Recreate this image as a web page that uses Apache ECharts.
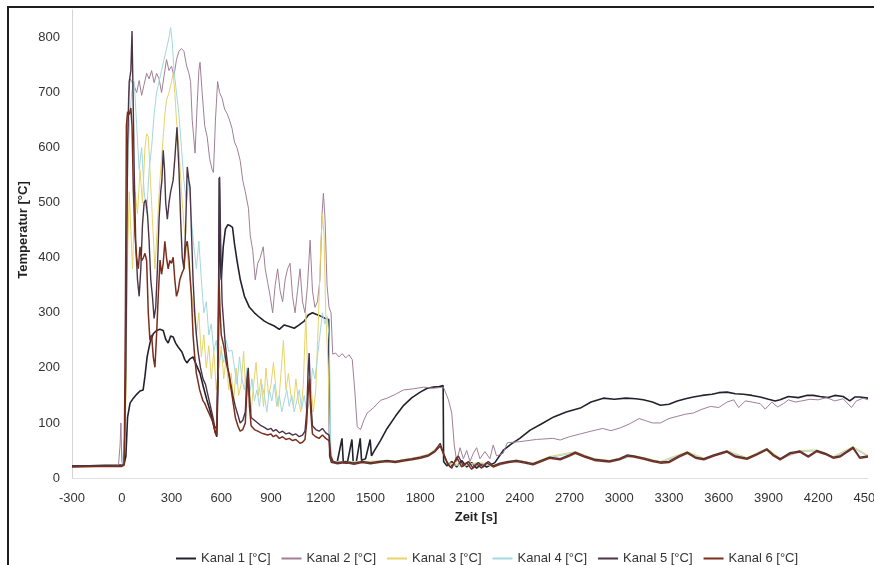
<!DOCTYPE html>
<html>
<head>
<meta charset="utf-8">
<script src="https://cdn.jsdelivr.net/npm/echarts@6/dist/echarts.min.js"></script>
<style>
html,body{margin:0;padding:0;background:#fff;}
#chart{width:874px;height:565px;}
</style>
</head>
<body>
<div id="chart"></div>
<script>
// ---- data: [time s, temperature °C] ----
const seriesNames = ['Kanal 1 [°C]','Kanal 2 [°C]','Kanal 3 [°C]','Kanal 4 [°C]','Kanal 5 [°C]','Kanal 6 [°C]'];
const xTicks = {min:-300, max:4500, step:300};
const yTicks = {min:0, max:850, step:100};

const k1 = [[-300,22],[-200,22],[-100,23],[-20,23],[0,24],[15,26],[25,40],[35,110],[50,136],[70,145],[90,152],[110,158],[129,160],[140,185],[153,220],[170,245],[190,262],[210,268],[230,270],[250,268],[265,252],[280,245],[295,258],[310,256],[325,245],[340,238],[363,229],[380,215],[393,209],[410,216],[430,220],[450,205],[472,190],[490,168],[513,142],[530,125],[545,108],[560,88],[573,75],[582,200],[588,545],[594,400],[600,360],[612,420],[625,452],[640,460],[655,458],[668,455],[680,425],[695,395],[715,360],[740,330],[770,310],[800,300],[830,292],[860,285],[890,280],[920,276],[950,270],[980,278],[1010,275],[1040,272],[1070,278],[1100,285],[1125,296],[1150,300],[1175,297],[1200,294],[1225,290],[1248,288],[1254,40],[1265,28],[1300,30],[1328,72],[1336,28],[1360,27],[1388,70],[1396,27],[1415,30],[1438,72],[1446,32],[1470,35],[1498,70],[1506,40],[1520,48],[1560,68],[1600,90],[1650,112],[1700,132],[1750,146],[1800,156],[1842,163],[1880,165],[1915,166],[1938,168],[1941,30],[1960,22],[1990,30],[2020,20],[2050,32],[2080,20],[2110,28],[2140,18],[2170,26],[2200,20],[2250,28],[2300,50],[2350,62],[2400,72],[2463,87],[2530,98],[2605,111],[2680,120],[2765,127],[2830,138],[2904,145],[2970,143],[3040,145],[3100,144],[3145,142],[3200,138],[3248,132],[3300,134],[3350,140],[3400,144],[3447,147],[3500,150],[3560,152],[3600,155],[3650,156],[3700,153],[3750,152],[3800,150],[3850,147],[3900,143],[3940,140],[3970,142],[4020,148],[4080,146],[4130,150],[4170,150],[4210,148],[4260,146],[4300,150],[4350,148],[4390,140],[4420,147],[4450,147],[4500,145]];

const k2 = [[-300,21],[-150,21],[-20,22],[-10,60],[-5,100],[0,30],[10,25],[20,100],[30,450],[40,690],[50,725],[60,720],[75,712],[90,700],[105,722],[120,695],[135,715],[150,735],[165,725],[180,740],[195,718],[210,735],[225,725],[240,700],[255,730],[270,760],[285,740],[300,748],[315,730],[330,760],[345,775],[360,780],[375,775],[390,750],[405,735],[415,720],[425,650],[442,590],[455,680],[465,740],[472,755],[485,700],[500,640],[515,620],[530,580],[545,560],[553,555],[565,650],[578,720],[590,700],[605,690],[620,670],[635,662],[650,650],[665,635],[680,610],[695,600],[714,577],[730,540],[745,520],[764,490],[775,440],[790,413],[805,360],[820,390],[835,400],[853,420],[865,380],[880,355],[895,330],[910,300],[925,350],[940,380],[955,340],[970,320],[985,360],[1000,380],[1015,390],[1030,330],[1045,300],[1060,340],[1075,380],[1090,320],[1105,300],[1120,350],[1136,432],[1150,340],[1165,310],[1180,320],[1195,360],[1208,480],[1216,517],[1226,470],[1238,350],[1250,310],[1262,300],[1272,225],[1290,227],[1310,220],[1330,226],[1350,218],[1370,224],[1390,215],[1405,160],[1420,93],[1440,88],[1460,105],[1480,118],[1520,128],[1560,141],[1600,145],[1650,152],[1700,160],[1760,162],[1820,165],[1880,163],[1940,165],[1970,142],[1990,118],[2005,60],[2020,30],[2040,55],[2060,35],[2080,50],[2100,30],[2120,45],[2140,55],[2160,35],[2190,48],[2220,35],[2240,60],[2260,40],[2300,45],[2325,64],[2400,66],[2500,70],[2600,72],[2644,69],[2700,75],[2765,80],[2830,85],[2900,90],[2950,86],[3006,91],[3060,98],[3120,108],[3160,104],[3200,100],[3248,100],[3300,108],[3350,112],[3400,116],[3447,118],[3500,125],[3550,130],[3600,128],[3650,138],[3690,142],[3720,128],[3760,140],[3800,138],[3850,135],[3880,125],[3920,138],[3955,129],[3990,135],[4020,142],[4060,138],[4100,140],[4150,143],[4200,142],[4250,146],[4300,140],[4350,144],[4400,128],[4430,140],[4470,145],[4500,142]];

const k3 = [[-300,21],[-100,21],[0,21],[15,22],[25,150],[35,400],[45,520],[55,450],[65,380],[80,520],[95,480],[110,560],[125,500],[140,600],[150,625],[160,620],[170,560],[185,470],[200,380],[215,460],[230,540],[245,600],[260,660],[270,686],[285,700],[300,720],[310,735],[320,700],[330,650],[345,600],[360,520],[375,460],[390,420],[405,380],[420,340],[435,300],[450,260],[465,300],[480,220],[495,260],[510,200],[525,240],[540,180],[555,230],[570,160],[585,200],[600,240],[615,180],[630,220],[645,160],[660,190],[675,140],[690,200],[705,150],[720,170],[735,230],[750,140],[765,180],[780,120],[795,170],[810,210],[825,150],[840,180],[855,130],[870,200],[885,150],[900,170],[915,210],[930,160],[945,130],[960,190],[975,250],[990,160],[1005,190],[1020,150],[1035,130],[1050,180],[1065,140],[1080,120],[1095,170],[1110,300],[1125,150],[1140,170],[1155,120],[1170,160],[1185,280],[1200,420],[1210,480],[1220,440],[1230,300],[1245,200],[1255,60],[1265,30],[1350,30],[1450,30],[1550,31],[1650,31],[1750,36],[1850,43],[1920,60],[1965,28],[2050,24],[2150,28],[2250,24],[2380,33],[2480,27],[2580,39],[2735,48],[2850,35],[2940,32],[3088,41],[3248,30],[3410,48],[3510,36],[3650,50],[3770,37],[3890,54],[3970,36],[4090,50],[4190,51],[4290,39],[4410,57],[4500,41]];

const k4 = [[-300,21],[-100,21],[0,21],[10,22],[20,80],[30,460],[40,600],[50,660],[60,700],[75,720],[90,640],[105,560],[120,600],[135,520],[150,480],[165,560],[180,600],[195,660],[210,700],[225,720],[240,740],[255,760],[270,780],[285,800],[295,818],[305,790],[315,740],[330,700],[345,660],[360,600],[375,540],[390,500],[405,540],[420,470],[435,420],[450,380],[465,430],[480,360],[495,300],[510,320],[525,260],[540,280],[555,230],[570,250],[585,200],[600,230],[615,210],[630,250],[645,230],[665,232],[680,200],[695,170],[710,220],[725,180],[740,160],[755,200],[770,150],[785,180],[800,140],[815,160],[830,130],[845,170],[860,150],[875,120],[890,160],[905,140],[920,170],[935,130],[950,150],[965,120],[980,140],[995,160],[1010,130],[1025,150],[1040,120],[1055,140],[1070,160],[1085,125],[1100,150],[1115,120],[1136,142],[1150,200],[1165,180],[1180,220],[1195,260],[1210,300],[1225,280],[1240,293],[1252,250],[1260,60],[1270,30],[1350,29],[1450,29],[1550,29],[1650,30],[1750,34],[1850,41],[1920,59],[1965,26],[2050,21],[2150,27],[2250,21],[2380,31],[2480,25],[2580,37],[2735,46],[2850,33],[2940,30],[3088,39],[3248,28],[3410,46],[3510,34],[3650,48],[3770,35],[3890,52],[3970,34],[4090,48],[4190,49],[4290,37],[4410,55],[4500,39]];

const k5 = [[-300,21],[-150,22],[0,22],[15,25],[25,200],[35,600],[45,720],[55,740],[62,812],[68,700],[75,560],[85,420],[95,360],[105,330],[115,380],[125,460],[135,500],[145,505],[155,480],[165,430],[175,360],[185,330],[195,290],[205,310],[215,380],[225,470],[235,520],[242,540],[250,595],[258,560],[265,500],[275,470],[285,500],[295,520],[310,541],[320,580],[333,637],[345,560],[355,470],[365,400],[375,380],[385,450],[395,565],[405,540],[412,528],[420,450],[430,360],[440,300],[450,260],[460,230],[475,200],[490,180],[505,170],[520,150],[535,130],[550,110],[563,90],[575,95],[583,300],[590,547],[597,420],[605,320],[615,280],[625,240],[640,200],[653,178],[670,150],[685,130],[700,115],[714,100],[730,105],[745,120],[755,180],[763,200],[770,150],[780,110],[800,105],[820,100],[840,95],[860,92],[880,88],[900,90],[914,85],[930,88],[950,82],[970,85],[990,80],[1010,82],[1030,78],[1050,80],[1070,75],[1090,78],[1105,85],[1115,120],[1125,200],[1130,227],[1138,150],[1150,95],[1170,88],[1190,85],[1210,90],[1230,82],[1250,78],[1260,40],[1275,30],[1300,28],[1350,30],[1400,27],[1450,30],[1500,28],[1550,30],[1600,32],[1650,30],[1700,33],[1750,35],[1800,38],[1850,42],[1890,50],[1920,63],[1940,45],[1960,30],[1980,20],[2000,25],[2030,40],[2060,22],[2090,30],[2120,18],[2150,28],[2180,20],[2210,30],[2240,22],[2280,27],[2330,30],[2380,32],[2430,29],[2480,26],[2530,32],[2580,38],[2644,35],[2700,42],[2735,47],[2790,40],[2850,34],[2940,31],[3000,35],[3050,42],[3088,40],[3150,36],[3200,32],[3248,29],[3300,30],[3360,40],[3410,47],[3460,38],[3510,35],[3570,42],[3650,49],[3700,40],[3770,36],[3830,44],[3890,53],[3930,42],[3970,35],[4030,46],[4090,49],[4140,40],[4190,50],[4250,44],[4290,38],[4330,40],[4370,48],[4410,56],[4450,38],[4500,40]];

const k6 = [[-300,20],[-150,21],[0,21],[15,24],[22,300],[28,640],[35,665],[45,660],[55,672],[62,640],[70,520],[80,440],[90,400],[100,380],[110,420],[120,395],[130,400],[140,408],[150,395],[160,300],[170,250],[180,260],[190,220],[200,201],[210,260],[220,330],[231,396],[240,370],[250,390],[260,430],[270,400],[280,380],[290,395],[300,390],[310,401],[320,360],[330,330],[340,340],[350,360],[363,372],[375,380],[385,420],[395,430],[405,400],[412,365],[420,330],[430,260],[440,220],[450,190],[460,175],[470,160],[480,150],[490,140],[500,136],[515,125],[530,115],[545,105],[555,95],[563,82],[572,78],[580,200],[587,360],[593,300],[600,260],[615,240],[630,210],[645,190],[655,170],[670,140],[685,110],[700,95],[714,85],[730,88],[745,100],[755,160],[762,190],[770,130],[780,95],[800,88],[820,85],[840,82],[860,80],[880,78],[900,80],[914,75],[930,78],[950,72],[970,75],[990,70],[1010,72],[1030,68],[1050,70],[1075,63],[1090,65],[1105,70],[1115,100],[1125,160],[1132,180],[1140,120],[1150,80],[1170,75],[1190,72],[1210,78],[1230,72],[1250,68],[1258,38],[1270,28],[1300,26],[1350,28],[1400,25],[1450,28],[1500,26],[1550,28],[1600,30],[1650,28],[1700,31],[1750,33],[1800,36],[1850,40],[1890,48],[1920,58],[1945,40],[1965,25],[1990,18],[2020,38],[2050,20],[2080,28],[2110,16],[2140,26],[2170,18],[2200,28],[2240,20],[2280,25],[2330,28],[2380,30],[2430,27],[2480,24],[2530,30],[2580,36],[2644,33],[2700,40],[2735,45],[2790,38],[2850,32],[2940,29],[3000,33],[3050,40],[3088,38],[3150,34],[3200,30],[3248,27],[3300,28],[3360,38],[3410,45],[3460,36],[3510,33],[3570,40],[3650,47],[3700,38],[3770,34],[3830,42],[3890,51],[3930,40],[3970,33],[4030,44],[4090,47],[4140,38],[4190,48],[4250,42],[4290,36],[4330,38],[4370,46],[4410,54],[4450,36],[4500,38]];

const seriesData = [k1,k2,k3,k4,k5,k6];
const colors = ['#22222e','#a08098','#e6d36a','#a3d8de','#4a3446','#7a2e1e'];
const widths = [1.6,1,1,1,1.4,1.5];

const chart = echarts.init(document.getElementById('chart'), null, {renderer:'canvas'});
const font = "'Liberation Sans', Arial, sans-serif";
chart.setOption({
  animation:false,
  backgroundColor:'#fff',
  textStyle:{fontFamily:font},
  grid:{left:72,right:6,top:10,bottom:87,containLabel:false,outerBoundsMode:'none'},
  xAxis:{
    type:'value', min:xTicks.min, max:xTicks.max, interval:xTicks.step,
    axisLine:{show:true,onZero:false,lineStyle:{color:'#e0e0e0',width:1}},
    axisTick:{show:false},
    splitLine:{show:false},
    axisLabel:{color:'#333',fontSize:13,margin:14,fontFamily:font,hideOverlap:false,formatter:(v)=>String(v)}
  },
  yAxis:{
    type:'value', min:yTicks.min, max:yTicks.max, interval:yTicks.step,
    axisLine:{show:true,onZero:false,lineStyle:{color:'#d4d4d4',width:1}},
    axisTick:{show:false},
    splitLine:{show:false},
    axisLabel:{color:'#333',fontSize:13,margin:12,showMaxLabel:false,fontFamily:font,formatter:(v)=>String(v)}
  },
  legend:{
    data:seriesNames, left:171, top:547, itemWidth:20, itemHeight:2, itemGap:11,
    icon:'rect',
    textStyle:{color:'#333',fontSize:13,fontFamily:font}
  },
  graphic:[
    {type:'rect', shape:{x:8,y:7,width:1000,height:1000}, style:{fill:null,stroke:'#1e1e1e',lineWidth:2}, silent:true},
    {type:'text', x:23, y:230, rotation:Math.PI/2, style:{text:'Temperatur [°C]', font:"bold 13px 'Liberation Sans', Arial, sans-serif", fill:'#222', align:'center', verticalAlign:'middle'}},
    {type:'text', x:476, y:517, style:{text:'Zeit [s]', font:"bold 13px 'Liberation Sans', Arial, sans-serif", fill:'#222', align:'center', verticalAlign:'middle'}}
  ],
  series: seriesData.map((d,i)=>({
    name:seriesNames[i], type:'line', data:d, symbol:'none', showSymbol:false,
    color:colors[i], lineStyle:{color:colors[i], width:widths[i]}, z:2+i
  }))
});
</script>
</body>
</html>
